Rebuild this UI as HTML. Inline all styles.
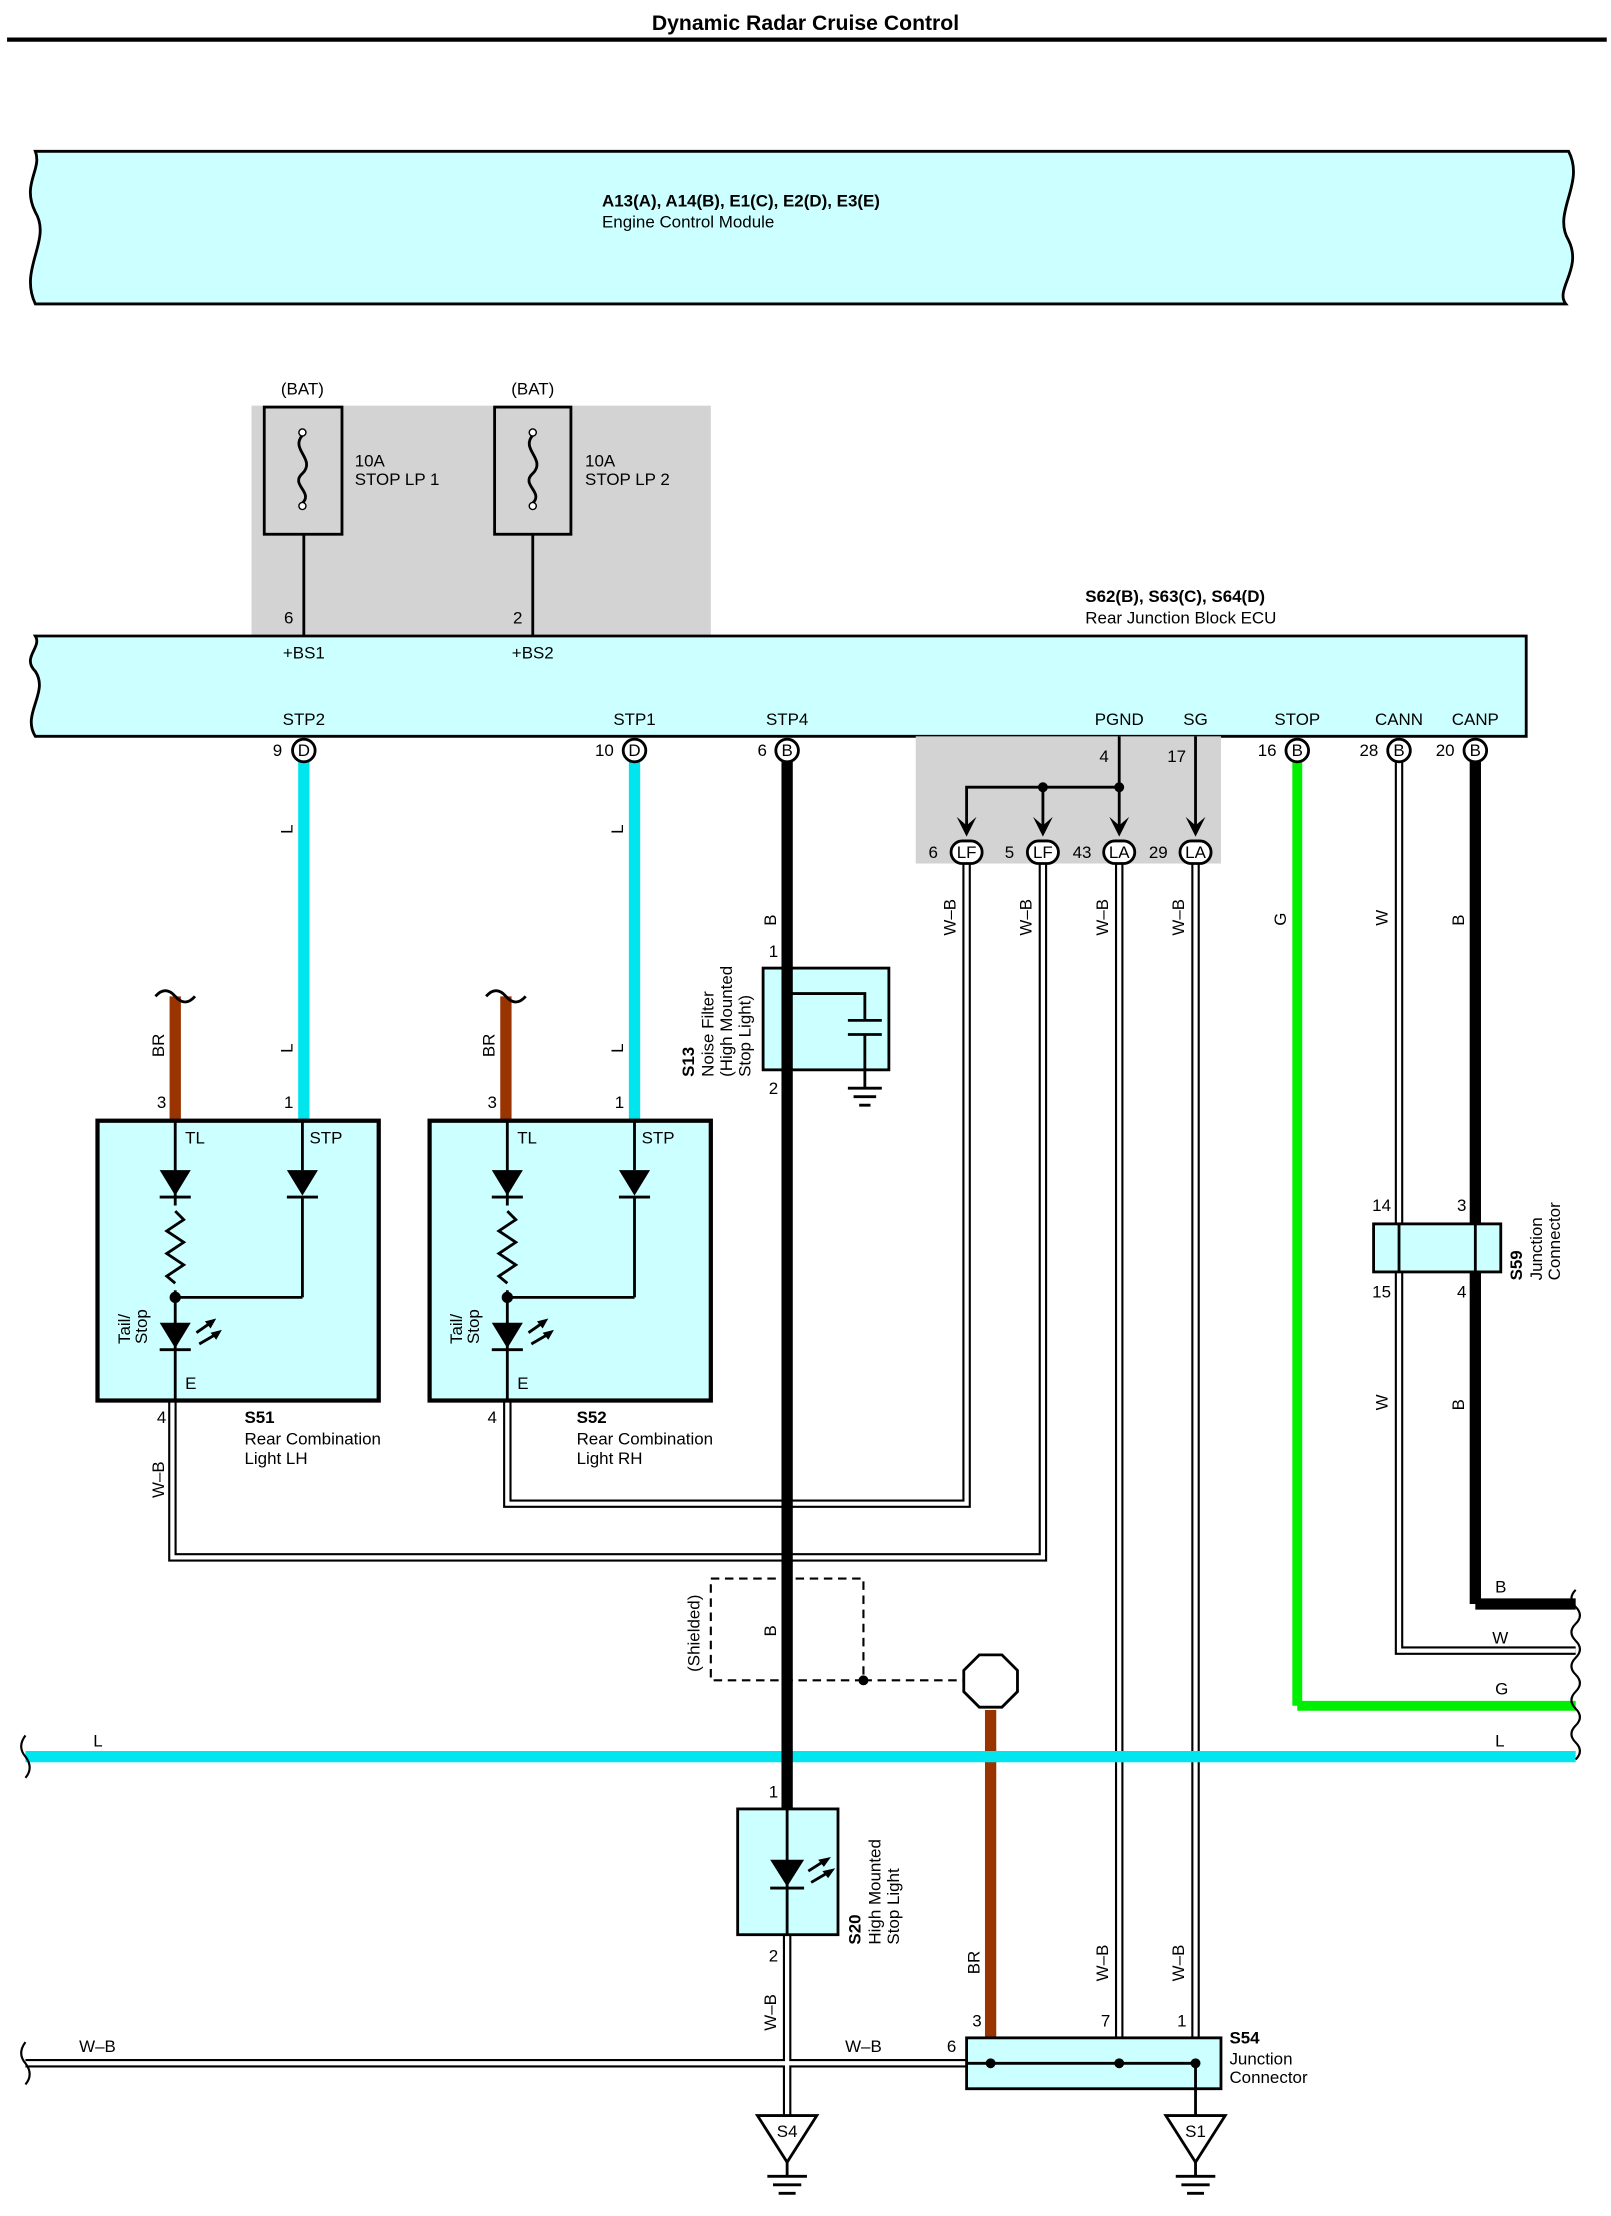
<!DOCTYPE html>
<html><head><meta charset="utf-8"><style>
html,body{margin:0;padding:0;background:#fff}
svg{display:block}
text{font-family:"Liberation Sans",sans-serif;font-size:12px;fill:#000}
.b{font-weight:bold}
</style></head><body>
<svg width="1611" height="2216" viewBox="0 0 1140 1568" xmlns="http://www.w3.org/2000/svg">
<defs>
<g id="lamp">
 <rect x="0" y="0" width="199" height="198" fill="#ccffff" stroke="#000" stroke-width="3"/>
 <line x1="55" y1="0" x2="55" y2="198" stroke="#000" stroke-width="2"/>
 <line x1="145" y1="0" x2="145" y2="35" stroke="#000" stroke-width="2"/>
 <polygon points="44,35 66,35 55,53" fill="#000"/><line x1="44" y1="54" x2="66" y2="54" stroke="#000" stroke-width="2"/>
 <polygon points="134,35 156,35 145,53" fill="#000"/><line x1="134" y1="54" x2="156" y2="54" stroke="#000" stroke-width="2"/>
 <line x1="145" y1="54" x2="145" y2="125" stroke="#000" stroke-width="2"/>
 <line x1="55" y1="125" x2="145" y2="125" stroke="#000" stroke-width="2"/>
 <rect x="50" y="60" width="10" height="60" fill="#ccffff"/>
 <polyline points="55,64 61,70 49,78 61,86 49,94 61,102 49,110 55,115" fill="none" stroke="#000" stroke-width="2"/>
 <circle cx="55" cy="125" r="4" fill="#000"/>
 <polygon points="44,143 66,143 55,161" fill="#000"/><line x1="44" y1="162" x2="66" y2="162" stroke="#000" stroke-width="2"/>
 <line x1="70" y1="150" x2="80" y2="143" stroke="#000" stroke-width="2"/><polygon points="84,140 76,142 80,147" fill="#000"/>
 <line x1="72" y1="158" x2="84" y2="151" stroke="#000" stroke-width="2"/><polygon points="88,148 80,150 84,155" fill="#000"/>
 <text x="62" y="16">TL</text><text x="150" y="16">STP</text><text x="62" y="190">E</text>
 <text transform="translate(23,158) rotate(-90)">Tail/</text><text transform="translate(35,158) rotate(-90)">Stop</text>
</g>
</defs>
<text x="570" y="21" text-anchor="middle" class="b" style="font-size:15px">Dynamic Radar Cruise Control</text>
<line x1="5" y1="28" x2="1137" y2="28" stroke="#000" stroke-width="3"/>
<path d="M25,107 L1110,107 C1122,130 1098,150 1110,170 C1120,190 1100,205 1108,215 L25,215 C13,190 37,170 25,150 C15,130 30,120 25,107 Z" fill="#ccffff" stroke="#000" stroke-width="2"/>
<text x="426" y="146" class="b">A13(A), A14(B), E1(C), E2(D), E3(E)</text>
<text x="426" y="161">Engine Control Module</text>
<rect x="178" y="287" width="325" height="163" fill="#d3d3d3"/>
<rect x="187" y="288" width="55" height="90" fill="none" stroke="#000" stroke-width="2"/>
<rect x="350" y="288" width="54" height="90" fill="none" stroke="#000" stroke-width="2"/>
<path d="M214,308 C205,318 224,325 214,335 C205,343 222,348 214,356" fill="none" stroke="#000" stroke-width="2"/>
<path d="M377,308 C368,318 387,325 377,335 C368,343 385,348 377,356" fill="none" stroke="#000" stroke-width="2"/>
<circle cx="214" cy="306" r="2.5" fill="#fff" stroke="#000"/><circle cx="214" cy="358" r="2.5" fill="#fff" stroke="#000"/>
<circle cx="377" cy="306" r="2.5" fill="#fff" stroke="#000"/><circle cx="377" cy="358" r="2.5" fill="#fff" stroke="#000"/>
<line x1="215" y1="378" x2="215" y2="450" stroke="#000" stroke-width="2"/>
<line x1="377" y1="378" x2="377" y2="450" stroke="#000" stroke-width="2"/>
<text x="214" y="279" text-anchor="middle">(BAT)</text><text x="377" y="279" text-anchor="middle">(BAT)</text>
<text x="251" y="330">10A</text><text x="251" y="343">STOP LP 1</text>
<text x="414" y="330">10A</text><text x="414" y="343">STOP LP 2</text>
<text x="201" y="441">6</text><text x="363" y="441">2</text>
<text x="768" y="426" class="b">S62(B), S63(C), S64(D)</text>
<text x="768" y="441">Rear Junction Block ECU</text>
<path d="M25,450 L1080,450 L1080,521 L25,521 C15,505 35,490 25,475 C15,465 30,458 25,450 Z" fill="#ccffff" stroke="#000" stroke-width="2"/>
<text x="215" y="466" text-anchor="middle">+BS1</text><text x="377" y="466" text-anchor="middle">+BS2</text>
<g text-anchor="middle">
<text x="215" y="513">STP2</text><text x="449" y="513">STP1</text><text x="557" y="513">STP4</text><text x="792" y="513">PGND</text><text x="846" y="513">SG</text><text x="918" y="513">STOP</text><text x="990" y="513">CANN</text><text x="1044" y="513">CANP</text>
</g>
<rect x="648" y="521" width="216" height="90" fill="#d3d3d3"/>
<line x1="215" y1="539" x2="215" y2="793" stroke="#00e5ee" stroke-width="8"/>
<line x1="449" y1="539" x2="449" y2="793" stroke="#00e5ee" stroke-width="8"/>
<line x1="124" y1="705" x2="124" y2="793" stroke="#993300" stroke-width="8"/>
<line x1="358" y1="705" x2="358" y2="793" stroke="#993300" stroke-width="8"/>
<path d="M110,705 q7,-8 14,0 q7,8 14,0" fill="none" stroke="#000" stroke-width="2"/>
<path d="M344,705 q7,-8 14,0 q7,8 14,0" fill="none" stroke="#000" stroke-width="2"/>
<line x1="918" y1="539" x2="918" y2="1207" stroke="#00ee00" stroke-width="7"/>
<line x1="918" y1="1207" x2="1115" y2="1207" stroke="#00ee00" stroke-width="7"/>
<line x1="1044" y1="539" x2="1044" y2="1135" stroke="#000" stroke-width="8"/>
<line x1="1044" y1="1135" x2="1115" y2="1135" stroke="#000" stroke-width="8"/>
<line x1="701" y1="1210" x2="701" y2="1460" stroke="#993300" stroke-width="8"/>
<g fill="none">
<path d="M684,603 V1064 H359 V991 M738,603 V1102 H122 V991 M792,603 V1460 M846,603 V1460 M990,539 V1168 H1115 M18,1460 H684 M557,1369 V1497" stroke="#000" stroke-width="6"/>
<path d="M684,603 V1064 H359 V991 M738,603 V1102 H122 V991 M792,603 V1460 M846,603 V1460 M990,539 V1168 H1115 M18,1460 H684 M557,1369 V1497" stroke="#fff" stroke-width="3"/>
</g>
<line x1="18" y1="1243" x2="1115" y2="1243" stroke="#00e5ee" stroke-width="8"/>
<line x1="557" y1="539" x2="557" y2="1280" stroke="#000" stroke-width="8"/>
<line x1="792" y1="521" x2="792" y2="585" stroke="#000" stroke-width="2"/>
<line x1="846" y1="521" x2="846" y2="585" stroke="#000" stroke-width="2"/>
<path d="M684,585 V557 H792" fill="none" stroke="#000" stroke-width="2"/>
<line x1="738" y1="557" x2="738" y2="585" stroke="#000" stroke-width="2"/>
<circle cx="738" cy="557" r="3.5"/><circle cx="792" cy="557" r="3.5"/>
<g fill="#000">
<path d="M677,578 L684,592 L691,578 L684,584 Z"/><path d="M731,578 L738,592 L745,578 L738,584 Z"/><path d="M785,578 L792,592 L799,578 L792,584 Z"/><path d="M839,578 L846,592 L853,578 L846,584 Z"/>
</g>
<g stroke="#000" stroke-width="2" fill="#fff">
<rect x="673" y="595" width="22" height="16" rx="8"/><rect x="727" y="595" width="22" height="16" rx="8"/><rect x="781" y="595" width="22" height="16" rx="8"/><rect x="835" y="595" width="22" height="16" rx="8"/>
</g>
<g text-anchor="middle" style="font-size:11px"><text x="684" y="607">LF</text><text x="738" y="607">LF</text><text x="792" y="607">LA</text><text x="846" y="607">LA</text></g>
<text x="657" y="607">6</text><text x="711" y="607">5</text><text x="759" y="607">43</text><text x="813" y="607">29</text>
<text x="778" y="539">4</text><text x="826" y="539">17</text>
<g stroke="#000" stroke-width="2" fill="#fff">
<circle cx="215" cy="531" r="8"/><circle cx="449" cy="531" r="8"/><circle cx="557" cy="531" r="8"/><circle cx="918" cy="531" r="8"/><circle cx="990" cy="531" r="8"/><circle cx="1044" cy="531" r="8"/>
</g>
<g text-anchor="middle" style="font-size:11px"><text x="215" y="535">D</text><text x="449" y="535">D</text><text x="557" y="535">B</text><text x="918" y="535">B</text><text x="990" y="535">B</text><text x="1044" y="535">B</text></g>
<text x="193" y="535">9</text><text x="421" y="535">10</text><text x="536" y="535">6</text><text x="890" y="535">16</text><text x="962" y="535">28</text><text x="1016" y="535">20</text>
<g>
<text transform="translate(207,590) rotate(-90)">L</text><text transform="translate(207,745) rotate(-90)">L</text>
<text transform="translate(441,590) rotate(-90)">L</text><text transform="translate(441,745) rotate(-90)">L</text>
<text transform="translate(116,748) rotate(-90)">BR</text><text transform="translate(350,748) rotate(-90)">BR</text>
<text transform="translate(549,655) rotate(-90)">B</text>
<text transform="translate(676,662) rotate(-90)">W–B</text><text transform="translate(730,662) rotate(-90)">W–B</text>
<text transform="translate(784,662) rotate(-90)">W–B</text><text transform="translate(838,662) rotate(-90)">W–B</text>
<text transform="translate(910,655) rotate(-90)">G</text><text transform="translate(982,655) rotate(-90)">W</text><text transform="translate(1036,655) rotate(-90)">B</text>
<text transform="translate(982,998) rotate(-90)">W</text><text transform="translate(1036,998) rotate(-90)">B</text>
<text transform="translate(116,1060) rotate(-90)">W–B</text>
<text transform="translate(549,1158) rotate(-90)">B</text>
<text transform="translate(495,1183) rotate(-90)">(Shielded)</text>
<text transform="translate(549,1437) rotate(-90)">W–B</text>
<text transform="translate(693,1397) rotate(-90)">BR</text>
<text transform="translate(784,1402) rotate(-90)">W–B</text><text transform="translate(838,1402) rotate(-90)">W–B</text>
</g>
<text x="1058" y="1127">B</text><text x="1056" y="1163">W</text><text x="1058" y="1199">G</text><text x="1058" y="1236">L</text><text x="66" y="1236">L</text>
<text x="56" y="1452">W–B</text><text x="598" y="1452">W–B</text>
<path d="M1115,1125 q-6,6 0,12 q6,6 0,12 q-6,6 0,12 q6,6 0,12 q-6,6 0,12 q6,6 0,12 q-6,6 0,12 q6,6 0,12 q-6,6 0,12 q6,6 0,12" fill="none" stroke="#000" stroke-width="1.5"/>
<path d="M18,1228 q-6,8 0,15 q6,8 0,15" fill="none" stroke="#000" stroke-width="1.5"/>
<path d="M18,1445 q-6,8 0,15 q6,8 0,15" fill="none" stroke="#000" stroke-width="1.5"/>
<use href="#lamp" x="69" y="793"/><use href="#lamp" x="304" y="793"/>
<text x="111" y="784">3</text><text x="201" y="784">1</text><text x="345" y="784">3</text><text x="435" y="784">1</text>
<text x="111" y="1007">4</text><text x="345" y="1007">4</text>
<text x="173" y="1007" class="b">S51</text><text x="173" y="1022">Rear Combination</text><text x="173" y="1036">Light LH</text>
<text x="408" y="1007" class="b">S52</text><text x="408" y="1022">Rear Combination</text><text x="408" y="1036">Light RH</text>
<rect x="540" y="685" width="89" height="72" fill="#ccffff" stroke="#000" stroke-width="2"/>
<line x1="557" y1="685" x2="557" y2="757" stroke="#000" stroke-width="8"/>
<path d="M557,703 H612 V722 M600,722 H624 M600,732 H624 M612,732 V770 M600,770 H624 M604,776 H620 M608,782 H616" fill="none" stroke="#000" stroke-width="2"/>
<circle cx="557" cy="703" r="3.5"/>
<text x="544" y="677">1</text><text x="544" y="774">2</text>
<text transform="translate(491,762) rotate(-90)" class="b">S13</text>
<text transform="translate(505,762) rotate(-90)">Noise Filter</text>
<text transform="translate(518,762) rotate(-90)">(High Mounted</text>
<text transform="translate(531,762) rotate(-90)">Stop Light)</text>
<rect x="972" y="866" width="90" height="34" fill="#ccffff" stroke="#000" stroke-width="2"/>
<line x1="990" y1="866" x2="990" y2="900" stroke="#000" stroke-width="2"/><line x1="1044" y1="866" x2="1044" y2="900" stroke="#000" stroke-width="2"/>
<text x="971" y="857">14</text><text x="1031" y="857">3</text><text x="971" y="918">15</text><text x="1031" y="918">4</text>
<text transform="translate(1077,906) rotate(-90)" class="b">S59</text>
<text transform="translate(1091,906) rotate(-90)">Junction</text><text transform="translate(1104,906) rotate(-90)">Connector</text>
<rect x="503" y="1117" width="108" height="72" fill="none" stroke="#000" stroke-width="1.5" stroke-dasharray="6,4"/>
<line x1="611" y1="1189" x2="683" y2="1189" stroke="#000" stroke-width="1.5" stroke-dasharray="6,4"/>
<circle cx="611" cy="1189" r="3.5"/>
<polygon points="693,1171 709,1171 720,1182 720,1197 709,1208 693,1208 682,1197 682,1182" fill="#fff" stroke="#000" stroke-width="2"/>
<rect x="522" y="1280" width="71" height="89" fill="#ccffff" stroke="#000" stroke-width="2"/>
<line x1="557" y1="1280" x2="557" y2="1369" stroke="#000" stroke-width="2"/>
<polygon points="545,1316 569,1316 557,1335" fill="#000"/><line x1="545" y1="1336" x2="569" y2="1336" stroke="#000" stroke-width="2"/>
<line x1="572" y1="1324" x2="583" y2="1317" stroke="#000" stroke-width="2"/><polygon points="588,1314 579,1316 583,1321" fill="#000"/>
<line x1="574" y1="1332" x2="586" y2="1325" stroke="#000" stroke-width="2"/><polygon points="591,1322 582,1324 586,1329" fill="#000"/>
<text x="544" y="1272">1</text><text x="544" y="1388">2</text>
<text transform="translate(609,1376) rotate(-90)" class="b">S20</text>
<text transform="translate(623,1376) rotate(-90)">High Mounted</text><text transform="translate(636,1376) rotate(-90)">Stop Light</text>
<rect x="684" y="1442" width="180" height="36" fill="#ccffff" stroke="#000" stroke-width="2"/>
<path d="M684,1460 H846" stroke="#000" stroke-width="2"/>
<circle cx="701" cy="1460" r="3.5"/><circle cx="792" cy="1460" r="3.5"/><circle cx="846" cy="1460" r="3.5"/>
<line x1="846" y1="1460" x2="846" y2="1497" stroke="#000" stroke-width="2"/>
<text x="688" y="1434">3</text><text x="779" y="1434">7</text><text x="833" y="1434">1</text><text x="670" y="1452">6</text>
<text x="870" y="1446" class="b">S54</text><text x="870" y="1461">Junction</text><text x="870" y="1474">Connector</text>
<g stroke="#000" stroke-width="2" fill="#fff">
<polygon points="536,1497 578,1497 557,1530"/><polygon points="825,1497 867,1497 846,1530"/>
</g>
<path d="M557,1530 V1540 M543,1540 H571 M547,1546 H567 M551,1552 H563 M846,1530 V1540 M832,1540 H860 M836,1546 H856 M840,1552 H852" stroke="#000" stroke-width="2"/>
<text x="557" y="1512" text-anchor="middle">S4</text><text x="846" y="1512" text-anchor="middle">S1</text>
</svg>
</body></html>
